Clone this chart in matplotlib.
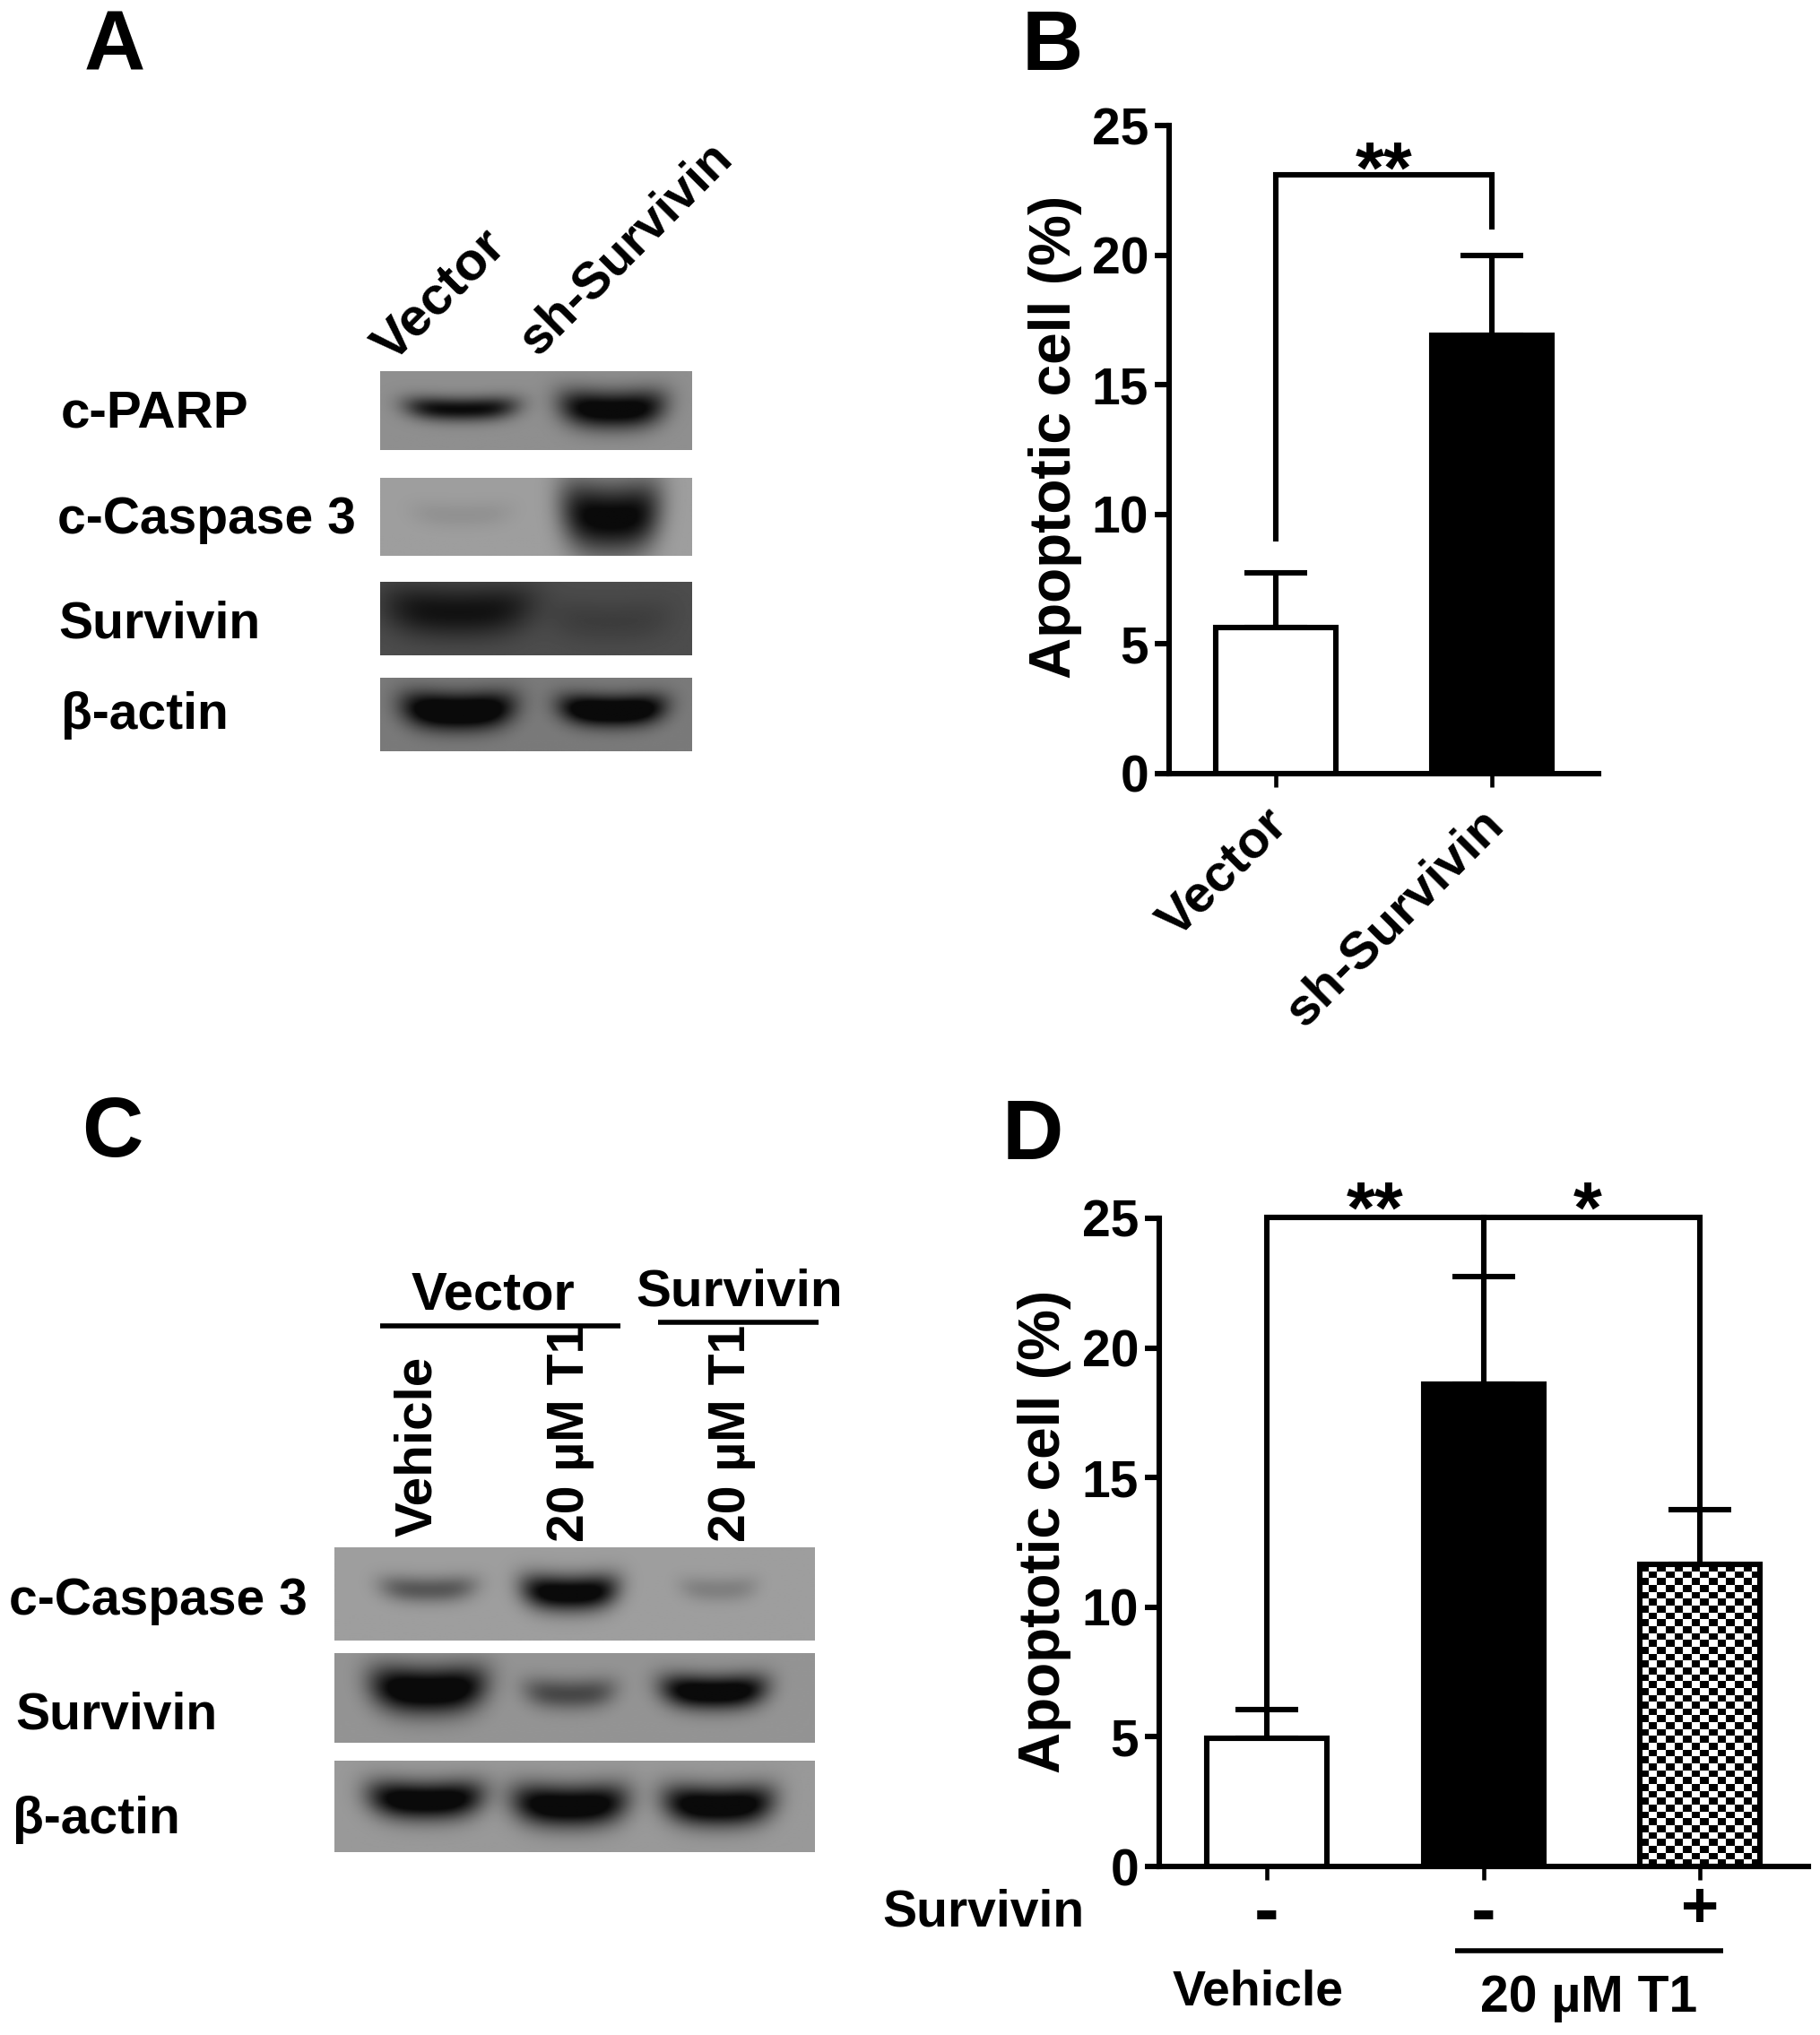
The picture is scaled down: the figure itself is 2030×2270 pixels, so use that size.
import numpy as np
import matplotlib
matplotlib.use('Agg')
import matplotlib.pyplot as plt
from matplotlib.lines import Line2D
from matplotlib.transforms import ScaledTranslation

plt.rcParams['font.family'] = ['Liberation Sans', 'DejaVu Sans']
plt.rcParams['font.weight'] = 'bold'

# bar values
b_labels = ['Vector', 'sh-Survivin']
b_values = [5.65, 16.9]
b_errors = [2.1, 3.1]

d_labels = ['-', '-', '+']
d_values = [4.95, 18.6, 11.65]
d_errors = [1.1, 4.15, 2.1]

y_ticks = [0, 5, 10, 15, 20, 25]

# blot bands: (lane centre, half width, half height, row centre, strength)
a_rows = ['c-PARP', 'c-Caspase 3', 'Survivin', 'β-actin']
a_backgrounds = [0.56, 0.62, 0.30, 0.48]
a_bands = [
    [(0.26, 0.18, 0.15, 0.49, 0.52), (0.745, 0.17, 0.24, 0.50, 0.60)],
    [(0.26, 0.16, 0.17, 0.48, 0.05), (0.74, 0.16, 0.46, 0.52, 0.62)],
    [(0.25, 0.24, 0.34, 0.42, 0.23), (0.74, 0.20, 0.30, 0.55, 0.06)],
    [(0.25, 0.18, 0.25, 0.47, 0.62), (0.745, 0.17, 0.21, 0.46, 0.62)],
]

c_rows = ['c-Caspase 3', 'Survivin', 'β-actin']
c_backgrounds = [0.62, 0.58, 0.60]
c_bands = [
    [(0.195, 0.10, 0.14, 0.46, 0.28), (0.49, 0.10, 0.19, 0.50, 0.68), (0.80, 0.08, 0.13, 0.46, 0.12)],
    [(0.195, 0.12, 0.26, 0.42, 0.68), (0.49, 0.095, 0.17, 0.46, 0.30), (0.79, 0.11, 0.19, 0.44, 0.66)],
    [(0.19, 0.12, 0.21, 0.44, 0.68), (0.49, 0.12, 0.23, 0.50, 0.68), (0.80, 0.115, 0.22, 0.50, 0.68)],
]

W, H = 2031, 2270
S = 2031 / 1403  # layout below was measured on the 1403 wide preview
LW = 4.4

fig = plt.figure(figsize=(W / 100, H / 100), dpi=100, facecolor='white')


def label(x, y, s, size=41, ha='left', va='center', rotation=0, **kw):
    fig.text(x * S / W, 1 - y * S / H, s, fontsize=size, ha=ha, va=va, rotation=rotation,
             rotation_mode='anchor', color='black', fontweight='bold', **kw)


def hline(x0, x1, y, lw=4.0):
    fig.add_artist(Line2D([x0 * S / W, x1 * S / W], [1 - y * S / H] * 2, color='black', lw=lw,
                          solid_capstyle='butt'))


def blot(x0, x1, y0, y1, background, bands):
    ax = fig.add_axes([x0 * S / W, 1 - y1 * S / H, (x1 - x0) * S / W, (y1 - y0) * S / H])
    n = int((x1 - x0) * S)
    m = int((y1 - y0) * S)
    xx, yy = np.meshgrid(np.linspace(0, 1, n), np.linspace(0, 1, m))
    img = np.full((m, n), float(background))
    for cx, hw, hh, cy, strength in bands:
        dx = (xx - cx) / hw
        dy = (yy - cy + 0.3 * hh * dx ** 2) / hh
        img -= strength * np.exp(-dx ** 4 - dy ** 2)
    ax.imshow(np.clip(img, 0.04, 1), cmap='gray', vmin=0, vmax=1, aspect='auto')
    ax.axis('off')


def bar_axes(left, right, top, bottom, xlim, values, errors, tick_labels):
    ax = fig.add_axes([left / W, 1 - bottom / H, (right - left) / W, (bottom - top) / H])
    pos = np.arange(len(values))
    bars = ax.bar(pos, values, width=0.555, color='white', edgecolor='black', linewidth=LW, zorder=2)
    ax.errorbar(pos, values, yerr=[np.zeros(len(errors)), errors], fmt='none', ecolor='black',
                elinewidth=LW, capsize=25, capthick=LW, zorder=1)
    ax.set_xlim(*xlim)
    ax.set_ylim(0, 25)
    ax.set_yticks(y_ticks)
    ax.set_xticks(pos)
    ax.set_xticklabels(tick_labels)
    ax.tick_params(axis='y', length=11.5, width=LW, labelsize=41, pad=5)
    ax.tick_params(axis='x', length=11, width=LW * 0.75)
    for side in ['top', 'right']:
        ax.spines[side].set_visible(False)
    for side in ['left', 'bottom']:
        ax.spines[side].set_linewidth(LW)
    ax.patch.set_alpha(0)
    return ax, bars


def bracket(ax, xs, ys):
    ax.plot(xs, ys, color='black', lw=LW, clip_on=False, solid_joinstyle='miter', zorder=3)


# panel letters
label(65, 37, 'A', size=68)
label(787, 37, 'B', size=68)
label(63, 874, 'C', size=68)
label(772, 876, 'D', size=68)

# panel A
label(302, 280, 'Vector', size=43, rotation=45, va='baseline')
label(414, 275, 'sh-Survivin', size=41, rotation=45, va='baseline')
a_tops = [286, 368, 448, 522]
a_bottoms = [347, 428, 505, 579]
a_text_y = [319, 401, 481, 551]
a_text_x = [47, 44, 45, 47]
a_text_size = [42, 41, 41, 41]
for i in range(4):
    blot(293, 533, a_tops[i], a_bottoms[i], a_backgrounds[i], a_bands[i])
    label(a_text_x[i], a_text_y[i], a_rows[i], size=a_text_size[i])

# panel C
label(380, 998, 'Vector', size=43, ha='center')
label(570, 996, 'Survivin', size=42, ha='center')
hline(293, 478, 1022)
hline(507, 631, 1019)
label(332, 1184, 'Vehicle', size=42, rotation=90, va='baseline')
label(450, 1188, '20 µM T1', size=41, rotation=90, va='baseline')
label(574, 1188, '20 µM T1', size=41, rotation=90, va='baseline')
c_tops = [1192, 1274, 1357]
c_bottoms = [1264, 1343, 1427]
c_text_y = [1234, 1322, 1402]
c_text_x = [7, 12, 10]
for i in range(3):
    blot(258, 628, c_tops[i], c_bottoms[i], c_backgrounds[i], c_bands[i])
    label(c_text_x[i], c_text_y[i], c_rows[i], size=41)

# panel B
ax_b, _ = bar_axes(1304, 1783, 140, 863, (-0.494, 1.494), b_values, b_errors, b_labels)
ax_b.containers[0][1].set_facecolor('black')
ax_b.tick_params(axis='x', labelsize=42, pad=10)
shift = ScaledTranslation(-14 / 100, 0, fig.dpi_scale_trans)
for t in ax_b.get_xticklabels():
    t.set_rotation(45)
    t.set_ha('right')
    t.set_rotation_mode('anchor')
    t.set_transform(t.get_transform() + shift)
bracket(ax_b, [0, 0, 1, 1], [9.05, 23.1, 23.1, 21.1])
ax_b.text(0.5, 23.15, '**', fontsize=59, ha='center', va='center')
label(813, 337, 'Apoptotic cell (%)', size=46, ha='center', rotation=90)

# panel D
ax_d, _ = bar_axes(1293, 2017, 1359, 2082, (-0.497, 2.50), d_values, d_errors, d_labels)
ax_d.containers[0][1].set_facecolor('black')
ax_d.tick_params(axis='x', labelsize=60, pad=0)
ax_d.get_xticklabels()[2].set_fontsize(52)
checks = np.indices((44, 14)).sum(axis=0) % 2
hatch_bar = ax_d.containers[0][2]
img = ax_d.imshow(checks, cmap='gray', extent=(2 - 0.2775, 2 + 0.2775, 0, d_values[2]),
                  aspect='auto', interpolation='nearest', zorder=1.5)
img.set_clip_path(hatch_bar)
hatch_bar.set_facecolor('none')
ax_d.set_xlim(-0.497, 2.50)
ax_d.set_ylim(0, 25)
bracket(ax_d, [0, 0, 2, 2], [6.1, 25.05, 25.05, 13.8])
bracket(ax_d, [1, 1], [25.05, 22.8])
ax_d.text(0.5, 25.2, '**', fontsize=59, ha='center', va='center', clip_on=False)
ax_d.text(1.48, 25.2, '*', fontsize=59, ha='center', va='center', clip_on=False)
label(805, 1180, 'Apoptotic cell (%)', size=46, ha='center', rotation=90)
label(680, 1474, 'Survivin', size=41)
hline(1121, 1328, 1503)
label(969, 1535, 'Vehicle', size=40, ha='center')
label(1224, 1540, '20 µM T1', ha='center')

fig.savefig('out.png', dpi=100, facecolor='white')
